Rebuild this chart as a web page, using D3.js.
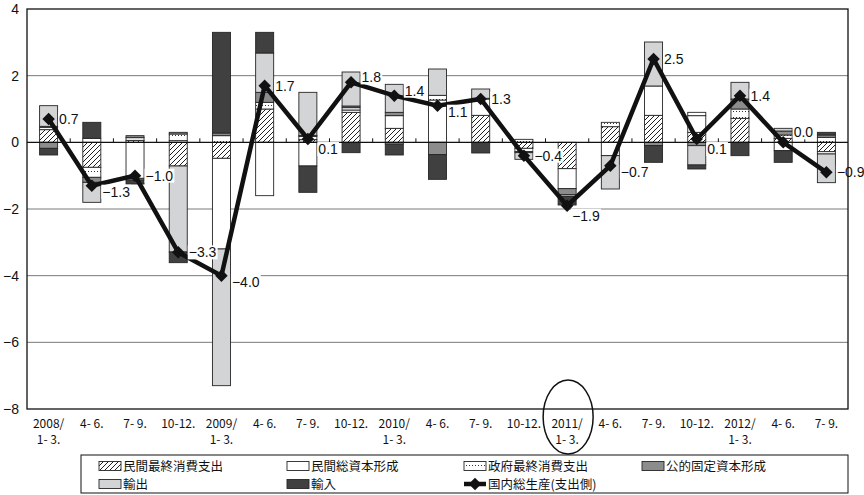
<!DOCTYPE html>
<html>
<head>
<meta charset="utf-8">
<script src="https://cdn.jsdelivr.net/npm/d3@7"></script>
<style>
  body { margin: 0; background: #fff; }
  svg { display: block; }
</style>
</head>
<body>
<svg id="chart" width="864" height="495"></svg>
<script>
// Quarterly contributions to real GDP growth (percentage points), 2008 Q1 – 2012 Q3
const quarters = ["2008/\n1- 3.", "4- 6.", "7- 9.", "10-12.",
                  "2009/\n1- 3.", "4- 6.", "7- 9.", "10-12.",
                  "2010/\n1- 3.", "4- 6.", "7- 9.", "10-12.",
                  "2011/\n1- 3.", "4- 6.", "7- 9.", "10-12.",
                  "2012/\n1- 3.", "4- 6.", "7- 9."];

const privateConsumption = [0.38, -0.75, 0.06, -0.71, -0.48, 1.00, 0.08, 0.90, 0.42, 0.00, 0.81, -0.18, -0.79, 0.47, 0.81, 0.30, 0.72, 0.12, -0.28];
const privateInvestment  = [0.07, 0.12, -1.08, 0.05, -2.72, -1.60, -0.71, 0.07, 0.38, 1.27, 0.49, -0.10, -0.60, -0.40, 0.88, 0.50, 0.00, -0.25, -0.07];
const govConsumption     = [0.03, -0.30, 0.08, 0.20, 0.20, 0.20, 0.10, 0.07, -0.05, 0.14, 0.02, 0.09, 0.00, 0.13, 0.00, 0.10, 0.28, 0.10, 0.15];
const publicInvestment   = [-0.18, -0.15, 0.06, 0.05, 0.08, 0.30, 0.03, 0.05, 0.10, -0.37, 0.00, -0.03, -0.18, 0.00, -0.10, -0.10, 0.30, 0.12, 0.07];
const exportsContrib     = [0.62, -0.60, -0.05, -2.58, -4.10, 1.18, 1.29, 1.02, 0.84, 0.79, 0.28, -0.20, -0.05, -1.00, 1.32, -0.58, 0.50, 0.08, -0.86];
const importsContrib     = [-0.20, 0.48, -0.12, -0.32, 3.02, 0.62, -0.79, -0.31, -0.33, -0.74, -0.32, 0.00, -0.26, 0.00, -0.50, -0.12, -0.40, -0.35, 0.08];
const gdpGrowth          = [0.7, -1.3, -1.0, -3.3, -4.0, 1.7, 0.1, 1.8, 1.4, 1.1, 1.3, -0.4, -1.9, -0.7, 2.5, 0.1, 1.4, 0.0, -0.9];

const yTicks = [4, 2, 0, -2, -4, -6, -8];

const seriesNames = ["民間最終消費支出", "民間総資本形成", "政府最終消費支出", "公的固定資本形成", "輸出", "輸入"];
const gdpName = "国内総生産(支出側)";

// Vertical placement of the value labels next to each GDP marker
const labelPlace = ["mid", "below", "mid", "mid", "below", "mid", "lower", "above", "above", "below",
                    "mid", "mid", "under", "below", "mid", "lower", "mid", "higher", "mid"];

// ---------------------------------------------------------------------------
const svg = d3.select("#chart");
const plotLeft = 27, plotRight = 848, plotTop = 9, plotBottom = 409;
const numFont = "'Liberation Sans', Arial, sans-serif";
const jpFont = "'Noto Sans CJK JP', sans-serif";

const defs = svg.append("defs");
const hatch = defs.append("pattern").attr("id", "hatch")
  .attr("patternUnits", "userSpaceOnUse").attr("width", 5).attr("height", 5);
hatch.append("rect").attr("width", 5).attr("height", 5).attr("fill", "#fff");
hatch.append("path").attr("d", "M-1,1 L1,-1 M0,5 L5,0 M4,6 L6,4")
  .attr("stroke", "#222").attr("stroke-width", 1);

const dots = defs.append("pattern").attr("id", "dots")
  .attr("patternUnits", "userSpaceOnUse").attr("width", 3).attr("height", 6);
dots.append("rect").attr("width", 3).attr("height", 6).attr("fill", "#fff");
dots.append("rect").attr("x", 1).attr("y", 3).attr("width", 1).attr("height", 1).attr("fill", "#333");

const fills = ["url(#hatch)", "#ffffff", "url(#dots)", "#8c8c8c", "#d3d4d6", "#404040"];

const x = d3.scaleBand()
  .domain(d3.range(quarters.length))
  .range([plotLeft, plotRight])
  .paddingInner(0.583)
  .paddingOuter(0.2915);

const y = d3.scaleLinear().domain([-8, 4]).range([plotBottom, plotTop]);

const cx = i => x(i) + x.bandwidth() / 2;

// gridlines
svg.append("g").selectAll("line")
  .data(yTicks.filter(v => v !== 0 && v !== 4 && v !== -8))
  .join("line")
  .attr("x1", plotLeft).attr("x2", plotRight)
  .attr("y1", d => y(d)).attr("y2", d => y(d))
  .attr("stroke", "#7a7a7a").attr("stroke-width", 1);

// y axis labels
const yAxis = d3.axisLeft(y).tickValues(yTicks).tickSize(0).tickPadding(8)
  .tickFormat(d => d < 0 ? "−" + Math.abs(d) : String(d));
const yG = svg.append("g").attr("transform", `translate(${plotLeft},0)`).call(yAxis);
yG.select(".domain").remove();
yG.selectAll("text").attr("font-family", numFont).attr("font-size", 14).attr("fill", "#111");

// stacked contribution bars
const rows = quarters.map((q, i) => ({
  i,
  c: privateConsumption[i], pi: privateInvestment[i], g: govConsumption[i],
  p: publicInvestment[i], ex: exportsContrib[i], im: importsContrib[i]
}));
const keys = ["c", "pi", "g", "p", "ex", "im"];
const stacked = d3.stack().keys(keys).offset(d3.stackOffsetDiverging)(rows);

svg.append("g").selectAll("g")
  .data(stacked)
  .join("g")
  .attr("fill", (d, k) => fills[k])
  .selectAll("rect")
  .data(d => d.filter(s => s[1] !== s[0]))
  .join("rect")
  .attr("x", s => x(s.data.i))
  .attr("width", x.bandwidth())
  .attr("y", s => y(Math.max(s[0], s[1])))
  .attr("height", s => Math.abs(y(s[0]) - y(s[1])))
  .attr("stroke", "#262626")
  .attr("stroke-width", 0.9);

// zero line with category ticks
svg.append("line")
  .attr("x1", plotLeft).attr("x2", plotRight)
  .attr("y1", y(0)).attr("y2", y(0))
  .attr("stroke", "#111").attr("stroke-width", 1.1);
svg.append("g").selectAll("line")
  .data(d3.range(1, quarters.length))
  .join("line")
  .attr("x1", k => plotLeft + x.step() * k).attr("x2", k => plotLeft + x.step() * k)
  .attr("y1", y(0)).attr("y2", y(0) - 4)
  .attr("stroke", "#111").attr("stroke-width", 1);

// GDP line and markers
svg.append("path")
  .datum(gdpGrowth)
  .attr("d", d3.line().x((d, i) => cx(i)).y(d => y(d)))
  .attr("fill", "none")
  .attr("stroke", "#111")
  .attr("stroke-width", 4.5)
  .attr("stroke-linejoin", "miter");

const diamond = d3.symbol().type(d3.symbolSquare).size(78);
svg.append("g").selectAll("path")
  .data(gdpGrowth)
  .join("path")
  .attr("d", diamond)
  .attr("transform", (d, i) => `translate(${cx(i)},${y(d)}) rotate(45)`)
  .attr("fill", "#111");

// value labels with white backing
const dyFor = { mid: 0, below: 6, lower: 10, above: -5, higher: -10, under: 10 };
const labelG = svg.append("g");
gdpGrowth.forEach((v, i) => {
  const place = labelPlace[i];
  const lx = cx(i) + (place === "under" ? 5 : 10.5);
  const ly = y(v) + dyFor[place];
  const g = labelG.append("g");
  const t = g.append("text")
    .attr("x", lx).attr("y", ly).attr("dy", "0.36em")
    .attr("font-family", numFont).attr("font-size", 14).attr("fill", "#111")
    .text((v < 0 ? "−" : "") + Math.abs(v).toFixed(1));
  const bb = t.node().getBBox();
  g.insert("rect", "text")
    .attr("x", bb.x - 1).attr("y", bb.y + 1).attr("width", bb.width + 2).attr("height", bb.height - 2)
    .attr("fill", "#fff");
});

// plot border
svg.append("rect")
  .attr("x", plotLeft).attr("y", plotTop)
  .attr("width", plotRight - plotLeft).attr("height", plotBottom - plotTop)
  .attr("fill", "none").attr("stroke", "#111").attr("stroke-width", 1.3);

// category labels
const xl = svg.append("g");
quarters.forEach((q, i) => {
  const lines = q.split("\n");
  const t = xl.append("text")
    .attr("x", cx(i)).attr("y", 428)
    .attr("text-anchor", "middle")
    .attr("font-family", jpFont).attr("font-size", 12).attr("fill", "#111");
  lines.forEach((s, k) => {
    t.append("tspan").attr("x", cx(i)).attr("dy", k === 0 ? 0 : 16).text(s);
  });
});

// highlight around the 2011 Q1 category label
svg.append("ellipse")
  .attr("cx", cx(12) + 1).attr("cy", 417)
  .attr("rx", 25).attr("ry", 37)
  .attr("fill", "none").attr("stroke", "#111").attr("stroke-width", 1.5);

// legend
const lgX0 = 81, lgX1 = 848, lgY0 = 455, lgY1 = 493;
svg.append("rect")
  .attr("x", lgX0).attr("y", lgY0).attr("width", lgX1 - lgX0).attr("height", lgY1 - lgY0)
  .attr("fill", "#fff").attr("stroke", "#111").attr("stroke-width", 1);

const colX = [99, 287, 464, 642];
const rowY = [466, 484];
const legendItems = seriesNames.map((name, k) => ({ name, k }));
legendItems.forEach(({ name, k }) => {
  const col = k < 4 ? k : k - 4;
  const row = k < 4 ? 0 : 1;
  const sx = colX[col], sy = rowY[row];
  svg.append("rect")
    .attr("x", sx).attr("y", sy - 4.5).attr("width", 22).attr("height", 9)
    .attr("fill", fills[k]).attr("stroke", "#262626").attr("stroke-width", 0.9);
  svg.append("text")
    .attr("x", sx + 24).attr("y", sy).attr("dy", "0.36em")
    .attr("font-family", jpFont).attr("font-size", 12.5).attr("fill", "#111")
    .text(name);
});
{
  const sx = colX[2], sy = rowY[1];
  svg.append("line")
    .attr("x1", sx).attr("x2", sx + 22).attr("y1", sy).attr("y2", sy)
    .attr("stroke", "#111").attr("stroke-width", 4.5);
  svg.append("path")
    .attr("d", diamond)
    .attr("transform", `translate(${sx + 11},${sy}) rotate(45)`)
    .attr("fill", "#111");
  svg.append("text")
    .attr("x", sx + 24).attr("y", sy).attr("dy", "0.36em")
    .attr("font-family", jpFont).attr("font-size", 12.5).attr("fill", "#111")
    .text(gdpName);
}
</script>
</body>
</html>
